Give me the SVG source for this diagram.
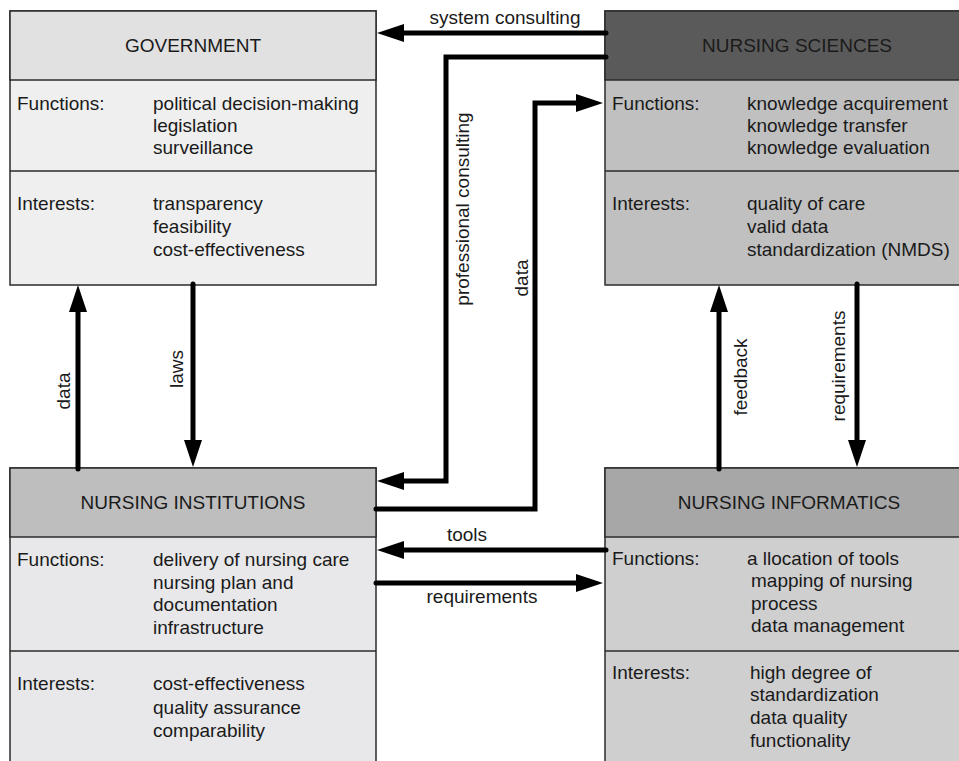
<svg xmlns="http://www.w3.org/2000/svg" width="959" height="761" viewBox="0 0 959 761">
  <style>
    text { font-family: "Liberation Sans", Arial, sans-serif; font-size: 19px; fill: #1a1a1a; }
    .title { text-anchor: middle; }
    .mid { text-anchor: middle; }
    .frame { stroke: #2b2b2b; stroke-width: 1.5; }
    .sep { stroke: #2b2b2b; stroke-width: 1.5; }
    .conn { fill: none; stroke: #000; stroke-width: 5; stroke-linecap: round; stroke-linejoin: miter; marker-end: url(#head); }
    .plain { fill: none; stroke: #000; stroke-width: 5; stroke-linecap: round; stroke-linejoin: miter; }
  </style>
  <defs>
    <marker id="head" markerUnits="userSpaceOnUse" markerWidth="28" markerHeight="18" viewBox="0 0 28 18" refX="9" refY="9" orient="auto">
      <path d="M0,0 L27,9 L0,18 Z" fill="#000"/>
    </marker>
  </defs>
  <rect x="0" y="0" width="959" height="761" fill="#fff"/>

  <!-- GOVERNMENT -->
  <g id="government">
    <rect class="frame" x="10" y="11" width="366" height="274" fill="#efefef"/>
    <rect class="frame" x="10" y="11" width="366" height="69" fill="#e1e1e1"/>
    <line class="sep" x1="10" y1="171" x2="376" y2="171"/>
    <text class="title" x="193" y="52">GOVERNMENT</text>
    <text x="17" y="110">Functions:</text>
    <text x="153" y="110">political decision-making</text>
    <text x="153" y="132">legislation</text>
    <text x="153" y="154">surveillance</text>
    <text x="17" y="210">Interests:</text>
    <text x="153" y="210">transparency</text>
    <text x="153" y="233">feasibility</text>
    <text x="153" y="256">cost-effectiveness</text>
  </g>

  <!-- NURSING SCIENCES -->
  <g id="nursing-sciences">
    <rect class="frame" x="605" y="11" width="364" height="274" fill="#c0c0c0"/>
    <rect class="frame" x="605" y="11" width="364" height="69" fill="#5a5a5a"/>
    <line class="sep" x1="605" y1="171" x2="969" y2="171"/>
    <text class="title" x="797" y="52">NURSING SCIENCES</text>
    <text x="612" y="110">Functions:</text>
    <text x="747" y="110">knowledge acquirement</text>
    <text x="747" y="132">knowledge transfer</text>
    <text x="747" y="154">knowledge evaluation</text>
    <text x="612" y="210">Interests:</text>
    <text x="747" y="210">quality of care</text>
    <text x="747" y="233">valid data</text>
    <text x="747" y="256">standardization (NMDS)</text>
  </g>

  <!-- NURSING INSTITUTIONS -->
  <g id="nursing-institutions">
    <rect class="frame" x="10" y="468" width="366" height="300" fill="#e8e8ea"/>
    <rect class="frame" x="10" y="468" width="366" height="69" fill="#bebebe"/>
    <line class="sep" x1="10" y1="651" x2="376" y2="651"/>
    <text class="title" x="193" y="509">NURSING INSTITUTIONS</text>
    <text x="17" y="566">Functions:</text>
    <text x="153" y="566">delivery of nursing care</text>
    <text x="153" y="588.5">nursing plan and</text>
    <text x="153" y="611">documentation</text>
    <text x="153" y="634">infrastructure</text>
    <text x="17" y="690">Interests:</text>
    <text x="153" y="690">cost-effectiveness</text>
    <text x="153" y="714">quality assurance</text>
    <text x="153" y="737">comparability</text>
  </g>

  <!-- NURSING INFORMATICS -->
  <g id="nursing-informatics">
    <rect class="frame" x="605" y="468" width="364" height="300" fill="#cfcfd0"/>
    <rect class="frame" x="605" y="468" width="364" height="69" fill="#a7a7a8"/>
    <line class="sep" x1="605" y1="651" x2="969" y2="651"/>
    <text class="title" x="789" y="509">NURSING INFORMATICS</text>
    <text x="612" y="565">Functions:</text>
    <text x="747" y="565">a llocation of tools</text>
    <text x="751" y="587">mapping of nursing</text>
    <text x="751" y="609.5">process</text>
    <text x="751" y="632">data management</text>
    <text x="612" y="679">Interests:</text>
    <text x="750" y="679">high degree of</text>
    <text x="750" y="701">standardization</text>
    <text x="750" y="724">data quality</text>
    <text x="750" y="747">functionality</text>
  </g>

  <!-- connectors -->
  <g id="connectors">
    <path class="conn" d="M606,33 H395"/>
    <path class="conn" d="M606,57 H446 V481 H395"/>
    <path class="conn" d="M376,509 H535 V103 H585"/>
    <path class="conn" d="M78,469 V303"/>
    <path class="conn" d="M193,284 V449"/>
    <path class="conn" d="M719,469 V303"/>
    <path class="conn" d="M857,284 V449"/>
    <path class="conn" d="M606,550 H395"/>
    <path class="conn" d="M376,583 H585"/>
  </g>

  <!-- connector labels -->
  <g id="labels">
    <text class="mid" x="505" y="24">system consulting</text>
    <text class="mid" transform="translate(469,209) rotate(-90)">professional consulting</text>
    <text class="mid" transform="translate(528,278) rotate(-90)">data</text>
    <text class="mid" transform="translate(70,391) rotate(-90)">data</text>
    <text class="mid" transform="translate(182.5,369) rotate(-90)">laws</text>
    <text class="mid" transform="translate(747,377) rotate(-90)">feedback</text>
    <text class="mid" transform="translate(845,366) rotate(-90)">requirements</text>
    <text class="mid" x="467" y="541">tools</text>
    <text class="mid" x="482" y="603">requirements</text>
  </g>
</svg>
